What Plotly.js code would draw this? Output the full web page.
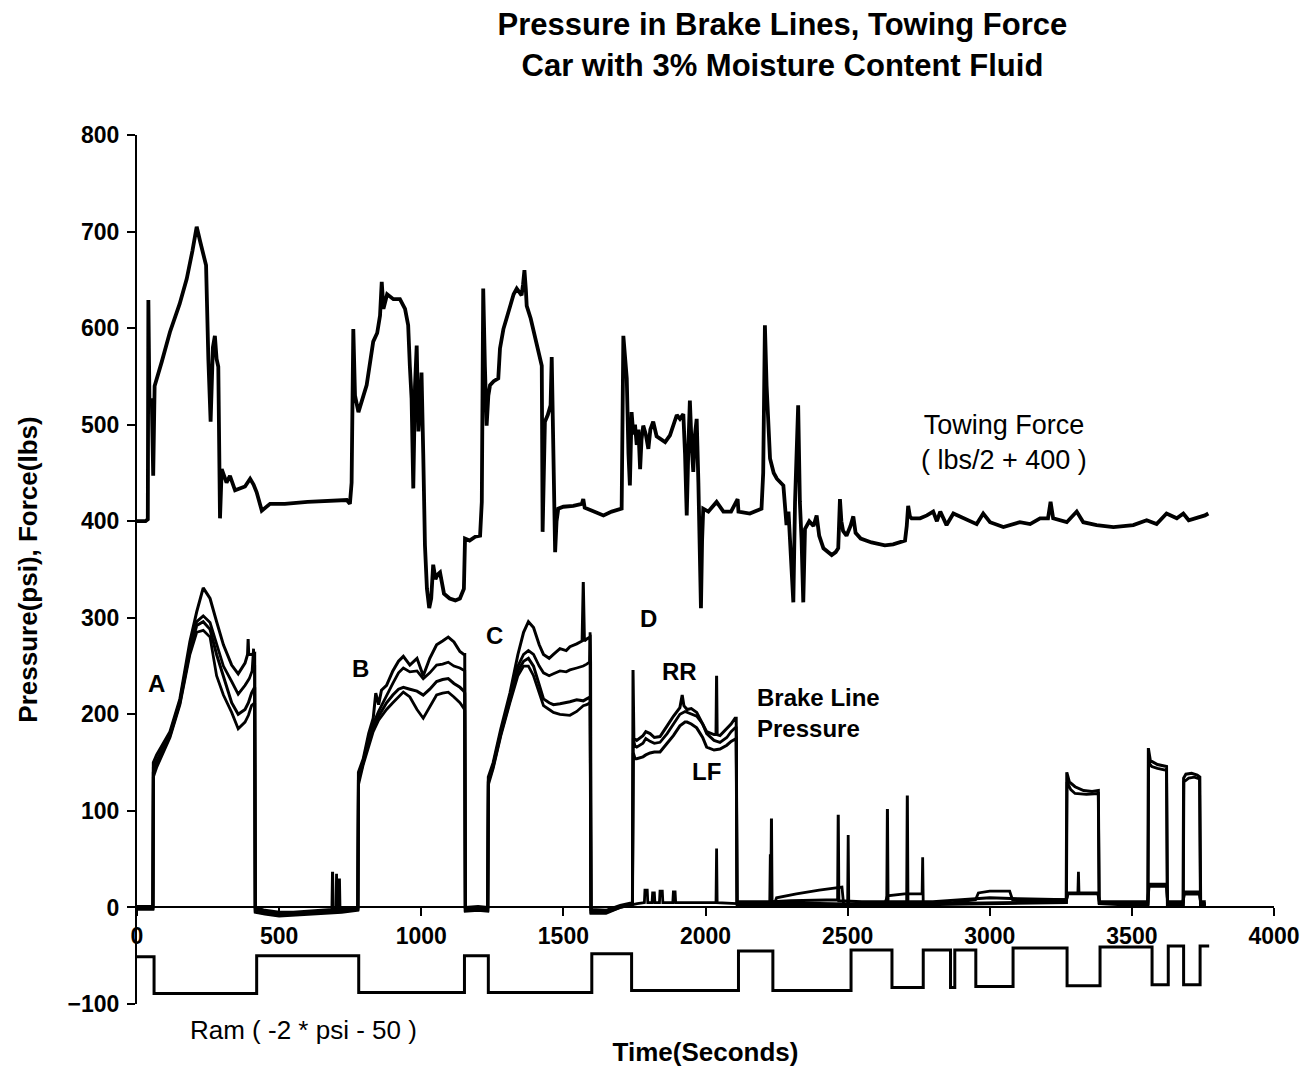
<!DOCTYPE html>
<html>
<head>
<meta charset="utf-8">
<script src="https://cdn.plot.ly/plotly-3.0.1.min.js"></script>
<style>html,body{margin:0;padding:0;background:#fff;}</style>
</head>
<body>
<div id="chart" style="width:1315px;height:1069px;"></div>
<script>
// Time (s) and value pairs
const xTicks = [0, 500, 1000, 1500, 2000, 2500, 3000, 3500, 4000];
const yTicks = [-100, 0, 100, 200, 300, 400, 500, 600, 700, 800];

// Towing force (lbs/2 + 400)
const towing = [[0,400],[30,400],[38,402],[40,629],[44,520],[52,527],[57,447],[62,540],[87,565],[116,596],[150,625],[175,651],[195,680],[210,705],[222,690],[243,665],[251,568],[259,503],[267,580],[274,592],[280,568],[286,560],[292,403],[298,454],[315,440],[327,447],[345,432],[362,434],[380,436],[398,444],[410,438],[421,430],[439,411],[468,418],[520,418],[600,420],[680,421],[738,422],[749,418],[755,440],[761,599],[767,530],[779,513],[795,530],[808,541],[831,586],[845,595],[855,613],[861,648],[867,620],[880,635],[902,630],[925,630],[943,620],[954,603],[960,560],[966,527],[972,434],[978,540],[984,582],[990,493],[996,520],[1001,554],[1007,470],[1013,375],[1020,330],[1028,310],[1035,320],[1042,355],[1050,340],[1058,345],[1066,347],[1080,325],[1100,320],[1120,318],[1136,320],[1150,330],[1154,382],[1170,380],[1190,384],[1207,385],[1213,420],[1218,641],[1224,560],[1230,499],[1236,530],[1242,541],[1255,545],[1271,548],[1277,579],[1289,599],[1300,610],[1312,623],[1325,635],[1336,641],[1353,634],[1358,645],[1363,660],[1368,640],[1371,623],[1385,610],[1394,599],[1412,575],[1424,561],[1427,389],[1431,480],[1435,503],[1445,510],[1455,520],[1459,570],[1465,460],[1471,368],[1476,400],[1482,413],[1500,415],[1535,416],[1565,418],[1570,423],[1575,414],[1610,410],[1641,406],[1670,410],[1705,413],[1711,592],[1717,570],[1723,548],[1729,470],[1734,437],[1740,513],[1746,490],[1752,500],[1758,479],[1764,495],[1770,454],[1775,485],[1781,499],[1790,490],[1799,475],[1806,495],[1816,503],[1828,488],[1840,486],[1858,482],[1875,489],[1887,500],[1899,510],[1910,506],[1922,511],[1928,470],[1934,406],[1940,480],[1945,525],[1951,480],[1957,451],[1963,490],[1969,506],[1975,440],[1984,310],[1988,380],[1992,413],[2010,410],[2039,420],[2063,410],[2090,410],[2113,423],[2116,410],[2156,408],[2197,413],[2203,450],[2209,603],[2215,540],[2222,480],[2227,465],[2240,450],[2251,444],[2274,437],[2285,396],[2292,410],[2302,360],[2309,316],[2315,420],[2320,460],[2326,520],[2332,420],[2338,380],[2344,316],[2350,392],[2365,400],[2380,395],[2391,406],[2400,385],[2415,372],[2430,368],[2444,365],[2458,368],[2467,372],[2473,423],[2478,400],[2484,390],[2496,385],[2510,395],[2520,405],[2528,388],[2546,382],[2584,378],[2620,376],[2631,375],[2660,376],[2673,377],[2702,380],[2708,395],[2713,416],[2719,405],[2725,403],[2755,403],[2779,406],[2801,410],[2814,400],[2826,410],[2848,396],[2872,408],[2907,403],[2954,397],[2977,408],[3001,399],[3048,394],[3072,396],[3106,399],[3142,397],[3177,403],[3205,403],[3214,420],[3223,403],[3271,399],[3306,410],[3329,399],[3376,396],[3435,394],[3505,396],[3552,401],[3587,397],[3622,408],[3658,403],[3681,408],[3700,401],[3728,403],[3757,406],[3769,408]];

// Brake line pressures (psi)
const brakeRR = [[0,1],[56,1],[57.5,150],[69,158],[116,182],[151,216],[186,275],[210,306],[233,331],[257,320],[280,296],[304,272],[333,251],[356,242],[380,253],[389,262],[391,278],[393,262],[403,262],[414,263],[416,0],[450,-3],[500,-5],[550,-5],[600,-4],[650,-3],[686,-2],[688,37],[690,-2],[720,-1],[777,0],[779,140],[796,154],[815,180],[831,196],[840,222],[850,210],[860,225],[878,230],[900,245],[920,255],[937,260],[960,251],[985,258],[1007,240],[1030,258],[1054,272],[1075,276],[1095,280],[1115,275],[1136,265],[1150,262],[1153,262],[1155,0],[1200,1],[1234,0],[1236,135],[1253,150],[1280,185],[1312,222],[1340,262],[1360,285],[1377,296],[1395,290],[1415,272],[1430,262],[1450,258],[1465,262],[1488,268],[1510,266],[1523,270],[1547,273],[1566,276],[1570,337],[1574,276],[1582,278],[1594,280],[1597,-2],[1650,-3],[1700,2],[1743,5],[1745,246],[1748,175],[1758,173],[1780,178],[1790,182],[1805,180],[1820,176],[1840,177],[1865,188],[1887,198],[1910,207],[1918,220],[1924,209],[1935,205],[1950,206],[1969,202],[1990,190],[2004,182],[2030,179],[2037,179],[2039,240],[2041,179],[2051,178],[2075,185],[2090,190],[2104,196],[2108,196],[2111,5],[2150,5],[2245,4],[2400,4],[2600,3],[2800,4],[3000,5],[3200,6],[3269,6],[3271,140],[3280,130],[3300,125],[3330,121],[3360,120],[3382,121],[3385,5],[3450,4],[3556,4],[3558,165],[3565,152],[3590,148],[3622,146],[3625,3],[3650,3],[3680,3],[3682,134],[3690,138],[3710,139],[3730,137],[3739,135],[3742,3],[3760,3]];

const brake2 = [[0,0],[56,0],[57.5,145],[69,152],[116,180],[151,214],[186,270],[210,296],[233,302],[257,295],[280,272],[304,250],[333,234],[356,221],[380,230],[395,237],[405,245],[410,268],[412,250],[414,250],[416,-2],[450,-5],[500,-7],[550,-6],[600,-5],[650,-4],[700,-3],[702,35],[704,-3],[740,-2],[777,-1],[779,137],[796,152],[815,176],[831,190],[850,203],[878,220],[900,232],[920,243],[937,248],[960,244],[985,245],[1007,237],[1030,243],[1054,251],[1075,252],[1095,254],[1115,250],[1136,248],[1150,245],[1153,245],[1155,-2],[1200,-1],[1234,-2],[1236,132],[1253,148],[1280,182],[1312,218],[1340,250],[1360,262],[1377,266],[1395,262],[1415,250],[1430,243],[1450,240],[1465,242],[1488,245],[1510,244],[1523,246],[1547,248],[1570,250],[1582,252],[1592,254],[1594,285],[1596,254],[1598,-4],[1650,-5],[1700,0],[1743,3],[1746,175],[1752,167],[1758,166],[1780,170],[1790,175],[1805,172],[1820,170],[1840,171],[1865,180],[1887,190],[1910,200],[1928,203],[1935,202],[1950,200],[1969,198],[1990,190],[2004,180],[2030,173],[2051,171],[2075,176],[2090,182],[2104,186],[2108,186],[2111,3],[2150,3],[2245,3],[2400,3],[2600,2],[2800,3],[3000,4],[3200,5],[3270,5],[3272,130],[3285,122],[3300,118],[3340,117],[3382,118],[3385,4],[3450,3],[3557,3],[3559,150],[3570,146],[3590,144],[3622,142],[3625,2],[3681,2],[3683,130],[3700,134],[3720,135],[3738,133],[3741,2],[3760,2]];

const brakeLF = [[0,-1],[56,-1],[57.5,140],[69,148],[116,178],[151,212],[186,266],[210,292],[233,296],[257,288],[280,262],[304,240],[333,212],[356,200],[380,205],[392,212],[403,222],[414,228],[416,-4],[450,-6],[500,-8],[550,-7],[600,-6],[650,-5],[710,-4],[712,30],[714,-4],[777,-2],[779,132],[796,150],[815,172],[831,186],[850,198],[878,212],[900,220],[920,226],[937,228],[960,226],[985,224],[1007,220],[1030,226],[1054,234],[1075,236],[1095,237],[1115,232],[1136,228],[1150,224],[1153,222],[1155,-3],[1200,-2],[1234,-3],[1236,130],[1253,146],[1280,180],[1312,215],[1340,245],[1360,255],[1377,258],[1395,250],[1415,230],[1430,216],[1450,212],[1465,210],[1488,211],[1510,212],[1523,213],[1547,215],[1570,214],[1582,216],[1594,218],[1597,-5],[1650,-5],[1700,1],[1743,4],[1746,160],[1752,154],[1758,154],[1780,156],[1790,158],[1805,160],[1820,161],[1840,161],[1865,170],[1887,178],[1910,188],[1928,192],[1935,192],[1950,190],[1969,186],[1990,176],[2004,166],[2030,163],[2051,164],[2075,168],[2090,172],[2104,175],[2108,175],[2111,6],[2150,6],[2230,6],[2232,92],[2234,6],[2300,7],[2400,8],[2465,8],[2467,96],[2469,7],[2550,6],[2638,6],[2640,102],[2642,6],[2708,6],[2710,116],[2712,6],[2800,6],[2900,8],[3000,10],[3100,9],[3200,8],[3270,8],[3275,15],[3380,15],[3386,6],[3450,6],[3556,6],[3560,22],[3622,22],[3626,6],[3680,6],[3684,14],[3738,14],[3742,6],[3760,6]];

const brake4 = [[0,-2],[56,-2],[57.5,135],[69,145],[116,176],[151,210],[186,262],[210,285],[233,287],[257,280],[280,240],[304,220],[333,202],[356,185],[380,192],[392,199],[403,209],[414,212],[416,-5],[450,-7],[500,-9],[550,-8],[600,-7],[650,-6],[720,-5],[777,-3],[779,127],[796,148],[815,168],[831,182],[850,194],[878,205],[900,212],[920,218],[937,223],[960,218],[985,205],[1007,196],[1030,208],[1054,220],[1075,222],[1095,223],[1115,218],[1136,212],[1150,206],[1153,204],[1155,-4],[1200,-3],[1234,-4],[1236,127],[1253,144],[1280,178],[1312,212],[1340,240],[1360,250],[1377,250],[1395,240],[1415,222],[1430,209],[1450,205],[1465,202],[1488,200],[1510,199],[1523,199],[1547,203],[1570,209],[1582,210],[1594,212],[1597,-6],[1650,-6],[1700,0],[1743,3],[1760,4],[1785,5],[1787,18],[1795,18],[1797,5],[1812,5],[1814,15],[1820,15],[1822,5],[1838,5],[1840,17],[1848,17],[1850,5],[1885,5],[1887,16],[1893,16],[1895,5],[1950,5],[2037,5],[2039,61],[2041,5],[2111,4],[2200,4],[2226,4],[2228,55],[2230,4],[2245,6],[2250,10],[2320,14],[2400,18],[2480,21],[2486,3],[2500,3],[2502,75],[2504,3],[2630,3],[2640,12],[2700,14],[2762,14],[2764,52],[2766,4],[2870,5],[2950,8],[2960,15],[3000,17],[3070,17],[3080,8],[3270,8],[3275,14],[3310,14],[3312,37],[3314,14],[3382,14],[3386,4],[3556,4],[3560,24],[3622,24],[3626,4],[3680,4],[3684,16],[3738,16],[3742,4],[3760,4]];

// Ram (-2 * psi - 50)
const ram = [[0,-51],[60,-51],[60,-89],[421,-89],[421,-50],[780,-50],[780,-88],[1152,-88],[1152,-50],[1236,-50],[1236,-88],[1600,-88],[1600,-48],[1740,-48],[1740,-86],[2116,-86],[2116,-45],[2237,-45],[2237,-86],[2512,-86],[2512,-44],[2656,-44],[2656,-83],[2766,-83],[2766,-44],[2862,-44],[2862,-83],[2877,-83],[2877,-44],[2951,-44],[2951,-82],[3082,-82],[3082,-42],[3272,-42],[3272,-81],[3388,-81],[3388,-41],[3571,-41],[3571,-80],[3628,-80],[3628,-40],[3682,-40],[3682,-80],[3740,-80],[3740,-40],[3772,-40]];

const FONT = 'Liberation Sans, Arial, sans-serif';

function line(name, pts, width) {
  return {
    type: 'scatter', mode: 'lines', name: name,
    x: pts.map(p => p[0]), y: pts.map(p => p[1]),
    line: {color: '#000', width: width, shape: 'linear'},
    showlegend: false, hoverinfo: 'skip'
  };
}

const traces = [
  line('Towing Force', towing, 3.8),
  line('RR', brakeRR, 3),
  line('Brake 2', brake2, 2.8),
  line('LF', brakeLF, 3),
  line('Brake 4', brake4, 2.8),
  line('Ram', ram, 3)
];

function ann(text, x, y, size, opts) {
  return Object.assign({text: text, x: x, y: y, xref: 'x', yref: 'y', showarrow: false,
    font: {family: FONT, size: size, color: '#000'}}, opts || {});
}

const layout = {
  width: 1315, height: 1069,
  margin: {l: 137, r: 41, t: 135, b: 65},
  paper_bgcolor: '#fff', plot_bgcolor: '#fff',
  font: {family: FONT, color: '#000'},
  title: {
    text: '<b>Pressure in Brake Lines, Towing Force<br>Car with 3% Moisture Content Fluid</b>',
    font: {family: FONT, size: 31, color: '#000'},
    x: 0.595, xref: 'container', xanchor: 'center',
    y: 0.967, yref: 'container', yanchor: 'top'
  },
  xaxis: {
    range: [0, 4000], tickvals: xTicks, ticktext: xTicks.map(String),
    anchor: 'free', position: 1/9,
    showline: true, linecolor: '#000', linewidth: 2,
    ticks: 'outside', ticklen: 8, tickwidth: 2, tickcolor: '#000',
    tickfont: {family: FONT, size: 23, color: '#000', weight: 'bold'},
    showgrid: false, zeroline: false,
    title: {text: '<b>Time(Seconds)</b>', font: {family: FONT, size: 26, color: '#000'}, standoff: 94}
  },
  xaxis2: {
    range: [0, 4000], overlaying: 'x', matches: 'x', anchor: 'free', position: 1/9,
    tickvals: xTicks, ticks: 'inside', ticklen: 8, tickwidth: 2, tickcolor: '#000',
    showticklabels: false, showline: false, showgrid: false, zeroline: false
  },
  yaxis: {
    range: [-100, 800], tickvals: yTicks,
    showline: true, linecolor: '#000', linewidth: 2,
    ticks: 'outside', ticklen: 8, tickwidth: 2, tickcolor: '#000',
    ticklabelstandoff: 3,
    tickfont: {family: FONT, size: 23, color: '#000', weight: 'bold'},
    showgrid: false, zeroline: false,
    title: {text: '<b>Pressure(psi), Force(lbs)</b>', font: {family: FONT, size: 26, color: '#000'}, standoff: 22}
  },
  yaxis2: {
    range: [-100, 800], overlaying: 'y', matches: 'y', side: 'left',
    tickvals: yTicks, ticks: 'inside', ticklen: 8, tickwidth: 2, tickcolor: '#000',
    showticklabels: false, showline: false, showgrid: false, zeroline: false
  },
  annotations: [
    ann('<b>A</b>', 70, 232, 24),
    ann('<b>B</b>', 788, 247, 24),
    ann('<b>C</b>', 1256, 282, 24),
    ann('<b>D</b>', 1798, 299, 24),
    ann('<b>RR</b>', 1910, 244, 24),
    ann('<b>LF</b>', 2002, 141, 24),
    ann('<b>Brake Line<br>Pressure</b>', 2174, 201, 24, {xanchor: 'left', align: 'left'}),
    ann('Towing Force<br>( lbs/2 + 400 )', 3050, 482, 27, {align: 'center'}),
    ann('Ram ( -2 * psi - 50 )', 587, -0.05, 26, {yref: 'paper'})
  ]
};

Plotly.newPlot('chart', traces, layout, {displayModeBar: false, staticPlot: true});
</script>
</body>
</html>
